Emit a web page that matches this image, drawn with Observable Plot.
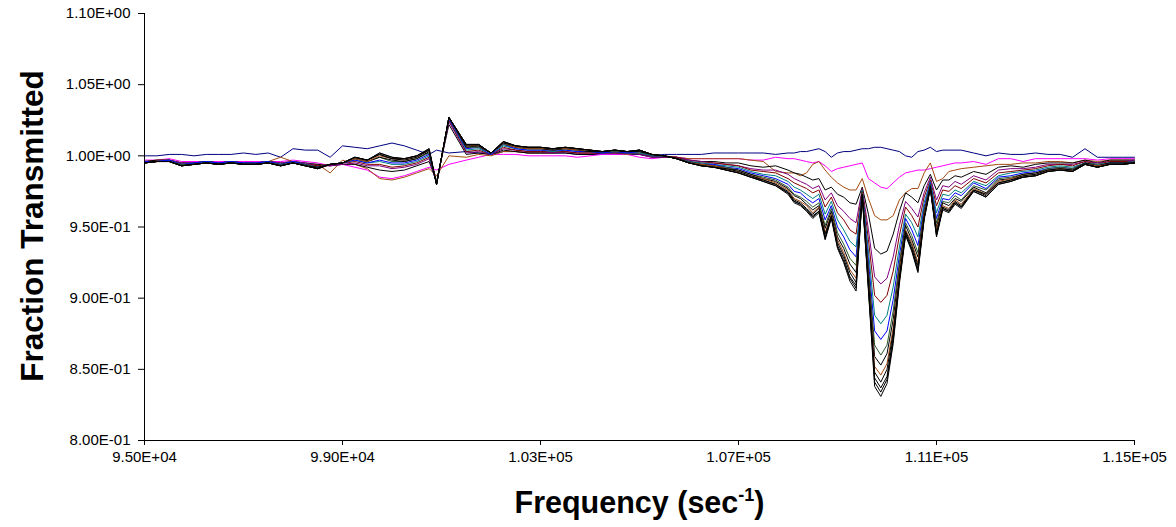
<!DOCTYPE html>
<html><head><meta charset="utf-8">
<script src="https://cdn.jsdelivr.net/npm/d3@7"></script>
<script src="https://cdn.jsdelivr.net/npm/@observablehq/plot@0.6"></script>
<style>html,body{margin:0;padding:0;background:#fff;}</style>
</head><body><div id="chart"></div>
<script>
// Frequency samples (sec^-1)
const frequency = [
95000,95250,95500,95750,96000,96250,96500,96750,97000,97250,
97500,97750,98000,98250,98500,98750,99000,99250,99500,99750,
100000,100250,100500,100750,100900,101150,101500,101750,102000,102250,
102500,102750,103000,103250,103500,103750,104000,104250,104500,104750,
105000,105250,105500,105750,106000,106250,106500,106750,107000,107250,
107500,107750,108000,
108125,108250,108375,108500,108625,108750,108875,109000,109125,109250,
109375,109500,109625,109750,109875,110000,110125,110250,110375,110500,
110625,110750,110875,111000,111125,111250,111375,111500,
111750,112000,112250,112500,112750,113000,113250,113500,113750,114000,114250,114500,114750,115000];

const s01 = [1.000,1.000,1.001,1.001,1.000,1.001,1.001,1.001,1.002,1.001,1.002,0.999,1.005,1.004,1.004,0.999,1.007,1.006,1.005,1.007,1.009,1.007,1.004,1.001,1.004,1.002,1.003,1.002,1.001,1.003,1.003,1.002,1.002,1.002,1.002,1.001,1.001,1.001,1.001,1.001,1.001,1.000,1.001,1.001,1.001,1.001,1.002,1.002,1.002,1.002,1.002,1.001,1.002,
1.002,1.003,1.003,1.004,1.005,1.003,0.999,1.002,1.003,1.003,1.004,1.005,1.005,1.006,1.006,1.005,1.004,1.003,1.000,0.999,1.003,1.004,1.006,1.003,1.004,1.004,1.004,1.004,
1.002,1.000,1.002,1.001,1.001,1.002,1.001,1.001,0.999,1.005,0.999,0.999,0.999,0.999];
const s02 = [0.997,0.997,0.998,0.996,0.996,0.996,0.996,0.996,0.996,0.996,0.996,0.996,0.997,0.996,0.995,0.993,0.994,0.992,0.990,0.985,0.984,0.986,0.989,0.992,0.990,0.994,0.997,0.999,1.001,1.001,1.001,1.000,1.000,1.000,1.000,0.999,1.000,1.001,1.001,1.001,0.999,0.998,0.999,0.999,0.998,0.998,0.998,0.998,0.998,0.997,0.997,0.999,0.998,
0.998,0.997,0.996,0.995,0.996,0.993,0.989,0.991,0.992,0.993,0.994,0.995,0.984,0.981,0.978,0.977,0.981,0.985,0.988,0.989,0.990,0.990,0.991,0.992,0.993,0.994,0.995,0.995,
0.996,0.994,0.998,0.998,0.996,0.998,0.998,0.998,0.998,0.998,0.997,0.998,0.998,0.998];
const s03 = [0.996,0.997,0.997,0.995,0.995,0.996,0.995,0.995,0.995,0.995,0.996,0.999,0.996,0.994,0.994,0.988,0.997,0.994,0.991,0.984,0.983,0.985,0.988,0.991,0.986,1.000,0.999,1.001,1.000,1.003,1.003,1.002,1.002,1.002,1.003,1.002,1.002,1.002,1.002,1.001,1.002,1.000,0.999,0.999,0.998,0.998,0.998,0.998,0.998,0.997,0.996,0.989,0.988,
0.988,0.986,0.988,0.994,0.996,0.990,0.985,0.981,0.978,0.976,0.976,0.984,0.970,0.958,0.955,0.955,0.958,0.969,0.974,0.977,0.977,0.988,0.995,0.982,0.984,0.989,0.990,0.991,
0.992,0.993,0.994,0.994,0.995,0.995,0.996,0.996,0.995,0.997,0.996,0.997,0.997,0.997];
const s04 = [0.996,0.997,0.997,0.995,0.995,0.996,0.995,0.996,0.995,0.995,0.996,0.995,0.996,0.995,0.994,0.993,0.994,0.994,0.992,0.990,0.989,0.990,0.993,0.996,0.982,1.022,1.001,1.002,1.001,1.004,1.003,1.002,1.002,1.002,1.002,1.001,1.001,1.002,1.002,1.002,1.001,0.999,0.999,0.999,0.997,0.996,0.996,0.995,0.995,0.993,0.992,0.993,0.990,
0.988,0.987,0.985,0.983,0.984,0.976,0.978,0.973,0.971,0.967,0.966,0.978,0.959,0.935,0.931,0.933,0.945,0.961,0.974,0.971,0.967,0.979,0.987,0.976,0.983,0.983,0.986,0.985,
0.989,0.987,0.992,0.993,0.992,0.994,0.995,0.995,0.995,0.997,0.995,0.997,0.997,0.997];
const s05 = [0.996,0.996,0.997,0.995,0.995,0.996,0.995,0.996,0.995,0.995,0.996,0.995,0.996,0.995,0.993,0.993,0.994,0.995,0.993,0.993,0.991,0.992,0.994,0.998,0.981,1.024,1.002,1.003,1.001,1.005,1.004,1.003,1.003,1.002,1.003,1.002,1.002,1.002,1.002,1.002,1.001,0.999,0.999,0.999,0.997,0.996,0.995,0.994,0.993,0.991,0.990,0.990,0.987,
0.984,0.982,0.980,0.977,0.979,0.969,0.974,0.965,0.961,0.956,0.953,0.977,0.948,0.915,0.910,0.914,0.929,0.951,0.968,0.963,0.957,0.974,0.985,0.969,0.979,0.978,0.982,0.980,
0.986,0.983,0.990,0.991,0.991,0.992,0.994,0.994,0.994,0.996,0.995,0.996,0.996,0.997];
const s06 = [0.996,0.996,0.997,0.994,0.995,0.996,0.995,0.996,0.995,0.995,0.996,0.994,0.996,0.994,0.993,0.994,0.995,0.996,0.994,0.994,0.992,0.993,0.995,0.999,0.981,1.025,1.003,1.004,1.001,1.006,1.004,1.003,1.003,1.003,1.003,1.002,1.002,1.002,1.003,1.002,1.002,1.000,1.000,0.999,0.996,0.995,0.995,0.994,0.993,0.990,0.989,0.988,0.984,
0.981,0.979,0.977,0.974,0.976,0.964,0.971,0.960,0.955,0.948,0.945,0.976,0.941,0.902,0.897,0.902,0.919,0.944,0.964,0.958,0.950,0.971,0.983,0.965,0.976,0.975,0.979,0.977,
0.984,0.981,0.988,0.989,0.990,0.991,0.993,0.994,0.993,0.996,0.994,0.996,0.996,0.996];
const s07 = [0.996,0.996,0.997,0.994,0.995,0.996,0.995,0.996,0.995,0.995,0.996,0.994,0.996,0.994,0.992,0.994,0.995,0.997,0.995,0.996,0.994,0.994,0.996,1.000,0.981,1.026,1.004,1.005,1.001,1.007,1.005,1.004,1.004,1.003,1.004,1.003,1.003,1.002,1.003,1.002,1.002,1.000,1.000,0.998,0.996,0.995,0.994,0.993,0.992,0.989,0.987,0.986,0.982,
0.978,0.976,0.973,0.970,0.973,0.959,0.968,0.955,0.948,0.940,0.936,0.976,0.933,0.888,0.882,0.888,0.908,0.936,0.959,0.953,0.943,0.967,0.982,0.960,0.973,0.972,0.976,0.974,
0.982,0.979,0.986,0.988,0.989,0.990,0.992,0.993,0.992,0.995,0.994,0.995,0.995,0.996];
const s08 = [0.996,0.996,0.997,0.994,0.995,0.996,0.995,0.996,0.995,0.995,0.996,0.994,0.996,0.994,0.992,0.994,0.995,0.997,0.995,0.997,0.995,0.995,0.997,1.001,0.980,1.026,1.005,1.006,1.001,1.008,1.005,1.004,1.004,1.004,1.004,1.003,1.003,1.002,1.003,1.002,1.003,1.000,1.000,0.998,0.996,0.994,0.994,0.992,0.991,0.988,0.986,0.984,0.980,
0.975,0.974,0.970,0.967,0.970,0.955,0.965,0.950,0.943,0.934,0.929,0.975,0.926,0.877,0.871,0.877,0.899,0.930,0.956,0.948,0.937,0.964,0.981,0.956,0.970,0.969,0.974,0.972,
0.981,0.977,0.985,0.986,0.988,0.989,0.991,0.992,0.991,0.995,0.993,0.995,0.995,0.996];
const s09 = [0.995,0.996,0.996,0.994,0.994,0.995,0.994,0.995,0.994,0.994,0.995,0.994,0.995,0.994,0.992,0.994,0.995,0.998,0.996,0.999,0.996,0.996,0.998,1.002,0.980,1.027,1.006,1.006,1.002,1.008,1.006,1.005,1.005,1.004,1.005,1.004,1.003,1.003,1.003,1.003,1.003,1.000,1.000,0.998,0.996,0.994,0.993,0.992,0.990,0.987,0.985,0.983,0.978,
0.973,0.971,0.968,0.964,0.967,0.951,0.963,0.946,0.938,0.928,0.923,0.975,0.921,0.867,0.860,0.867,0.891,0.925,0.953,0.944,0.932,0.962,0.980,0.953,0.968,0.967,0.972,0.969,
0.979,0.976,0.984,0.985,0.987,0.988,0.991,0.992,0.991,0.995,0.993,0.995,0.995,0.996];
const s10 = [0.995,0.996,0.996,0.993,0.994,0.995,0.994,0.995,0.994,0.994,0.995,0.993,0.995,0.993,0.992,0.994,0.995,0.998,0.996,0.999,0.997,0.996,0.998,1.003,0.980,1.027,1.006,1.007,1.002,1.009,1.006,1.005,1.005,1.004,1.005,1.004,1.003,1.003,1.004,1.003,1.003,1.001,1.000,0.998,0.995,0.994,0.993,0.991,0.990,0.987,0.984,0.982,0.977,
0.972,0.970,0.966,0.962,0.965,0.949,0.961,0.943,0.935,0.924,0.918,0.974,0.917,0.859,0.853,0.861,0.885,0.921,0.951,0.941,0.929,0.960,0.979,0.950,0.967,0.965,0.970,0.968,
0.978,0.974,0.983,0.984,0.987,0.988,0.990,0.991,0.990,0.995,0.993,0.995,0.995,0.995];
const s11 = [0.995,0.996,0.996,0.993,0.994,0.995,0.994,0.995,0.994,0.994,0.995,0.993,0.995,0.993,0.991,0.994,0.995,0.998,0.996,1.000,0.998,0.997,0.999,1.004,0.980,1.027,1.007,1.007,1.002,1.009,1.006,1.005,1.005,1.005,1.005,1.004,1.004,1.003,1.004,1.003,1.004,1.001,1.000,0.998,0.995,0.994,0.993,0.991,0.989,0.986,0.984,0.981,0.976,
0.970,0.968,0.965,0.960,0.964,0.946,0.959,0.941,0.932,0.920,0.914,0.974,0.913,0.852,0.846,0.854,0.879,0.918,0.948,0.939,0.925,0.959,0.978,0.948,0.965,0.963,0.969,0.966,
0.977,0.973,0.982,0.984,0.986,0.987,0.990,0.991,0.990,0.994,0.993,0.994,0.994,0.995];
const s12 = [0.995,0.996,0.996,0.993,0.994,0.995,0.994,0.995,0.994,0.994,0.995,0.993,0.995,0.993,0.991,0.994,0.995,0.999,0.997,1.001,0.998,0.997,0.999,1.004,0.980,1.027,1.007,1.007,1.002,1.009,1.007,1.006,1.006,1.005,1.006,1.005,1.004,1.003,1.004,1.003,1.004,1.001,1.000,0.998,0.995,0.993,0.992,0.991,0.989,0.986,0.983,0.980,0.975,
0.969,0.967,0.963,0.959,0.963,0.945,0.958,0.939,0.930,0.918,0.911,0.973,0.911,0.848,0.841,0.850,0.876,0.915,0.947,0.937,0.923,0.957,0.978,0.946,0.964,0.962,0.968,0.965,
0.976,0.973,0.981,0.983,0.986,0.987,0.990,0.991,0.990,0.994,0.992,0.994,0.994,0.995];
const s13 = [0.995,0.996,0.996,0.993,0.994,0.995,0.994,0.995,0.994,0.994,0.995,0.993,0.995,0.993,0.991,0.994,0.995,0.999,0.997,1.001,0.998,0.998,1.000,1.004,0.980,1.027,1.008,1.008,1.002,1.010,1.007,1.006,1.006,1.005,1.006,1.005,1.004,1.003,1.004,1.003,1.004,1.001,1.000,0.998,0.995,0.993,0.992,0.990,0.988,0.985,0.983,0.980,0.974,
0.968,0.966,0.962,0.958,0.961,0.943,0.957,0.937,0.928,0.915,0.909,0.973,0.908,0.844,0.837,0.845,0.873,0.913,0.946,0.935,0.921,0.956,0.978,0.945,0.963,0.961,0.967,0.964,
0.976,0.972,0.981,0.983,0.985,0.986,0.989,0.990,0.989,0.994,0.992,0.994,0.994,0.995];
const s14 = [0.995,0.996,0.996,0.993,0.994,0.995,0.994,0.995,0.994,0.994,0.995,0.993,0.995,0.993,0.991,0.994,0.995,0.999,0.997,1.002,0.999,0.998,1.000,1.005,0.980,1.027,1.008,1.008,1.002,1.010,1.007,1.006,1.006,1.005,1.006,1.005,1.004,1.003,1.004,1.003,1.004,1.001,1.000,0.998,0.995,0.993,0.992,0.990,0.988,0.985,0.982,0.979,0.974,
0.968,0.966,0.962,0.957,0.961,0.942,0.957,0.936,0.926,0.914,0.907,0.972,0.907,0.841,0.834,0.843,0.870,0.912,0.945,0.934,0.919,0.956,0.977,0.944,0.963,0.961,0.967,0.964,
0.975,0.971,0.980,0.982,0.985,0.986,0.989,0.990,0.989,0.994,0.992,0.994,0.994,0.995];
const s15 = [0.995,0.996,0.996,0.993,0.994,0.995,0.994,0.995,0.994,0.994,0.995,0.993,0.995,0.993,0.991,0.994,0.995,0.999,0.997,1.002,0.999,0.998,1.000,1.005,0.980,1.027,1.008,1.008,1.002,1.010,1.007,1.006,1.006,1.005,1.006,1.005,1.004,1.003,1.004,1.003,1.004,1.001,1.000,0.998,0.995,0.993,0.992,0.990,0.988,0.985,0.982,0.979,0.973,
0.967,0.965,0.961,0.956,0.960,0.941,0.956,0.935,0.925,0.912,0.905,0.972,0.905,0.838,0.831,0.840,0.868,0.910,0.944,0.933,0.918,0.955,0.977,0.943,0.962,0.960,0.966,0.963,
0.975,0.971,0.980,0.982,0.985,0.986,0.989,0.990,0.989,0.994,0.992,0.994,0.994,0.995];

const seriesNames = ["Series 1","Series 2","Series 3","Series 4","Series 5","Series 6","Series 7","Series 8","Series 9","Series 10","Series 11","Series 12","Series 13","Series 14","Series 15"];
const seriesColors = ["#000080","#ff00ff","#a34a12","#000000","#800080","#800000","#008080","#0000ff","#2d5a2d","#000000","#a34a12","#000000","#000000","#000000","#000000"];
const seriesValues = [s01,s02,s03,s04,s05,s06,s07,s08,s09,s10,s11,s12,s13,s14,s15];

const xTicks = [95000, 99000, 103000, 107000, 111000, 115000];
const xTickLabels = ["9.50E+04","9.90E+04","1.03E+05","1.07E+05","1.11E+05","1.15E+05"];
const yTicks = [0.80, 0.85, 0.90, 0.95, 1.00, 1.05, 1.10];
const yTickLabels = ["8.00E-01","8.50E-01","9.00E-01","9.50E-01","1.00E+00","1.05E+00","1.10E+00"];

seriesValues.forEach((a, i) => { if (a.length !== frequency.length) console.error("length mismatch", i + 1, a.length); });

const rows = [];
seriesValues.forEach((vals, si) => vals.forEach((v, i) => rows.push({f: frequency[i], v, s: seriesNames[si]})));

const chart = Plot.plot({
  width: 1176, height: 527,
  marginLeft: 144, marginRight: 42, marginTop: 13, marginBottom: 87,
  style: {fontFamily: "'Liberation Sans', Arial, sans-serif", fontSize: "15px", color: "#000", background: "#fff", overflow: "visible"},
  x: {domain: [95000, 115000]},
  y: {domain: [0.8, 1.1]},
  color: {domain: seriesNames, range: seriesColors},
  marks: [
    Plot.line(rows, {x: "f", y: "v", z: "s", stroke: "s", strokeWidth: 1}),
    Plot.ruleX([95000], {stroke: "#000", strokeWidth: 1}),
    Plot.ruleY([0.8], {stroke: "#000", strokeWidth: 1}),
    Plot.axisX(xTicks, {tickSize: 5, tickPadding: 6, fontSize: 15, label: null,
      tickFormat: d => xTickLabels[xTicks.indexOf(d)]}),
    Plot.axisY(yTicks, {tickSize: 6, tickPadding: 8, fontSize: 15, label: null,
      tickFormat: d => yTickLabels[yTicks.findIndex(t => Math.abs(t - d) < 1e-9)]}),
    Plot.text(["Fraction Transmitted"], {frameAnchor: "left", textAnchor: "middle", rotate: -90, dx: -112, dy: -1, fontSize: 31.5, fontWeight: "bold"}),
    Plot.text(["Frequency (sec-1)"], {frameAnchor: "bottom", textAnchor: "middle", dy: 72, fontSize: 30.5, fontWeight: "bold"})
  ]
});

d3.select(chart).selectAll("text").filter(function() { return this.textContent === "Frequency (sec-1)"; })
  .each(function() {
    const t = d3.select(this);
    t.text(null);
    t.append("tspan").text("Frequency (sec");
    t.append("tspan").attr("font-size", 18).attr("dy", -12).text("-1");
    t.append("tspan").attr("dy", 12).text(")");
  });

document.getElementById("chart").appendChild(chart);
</script>
</body></html>
